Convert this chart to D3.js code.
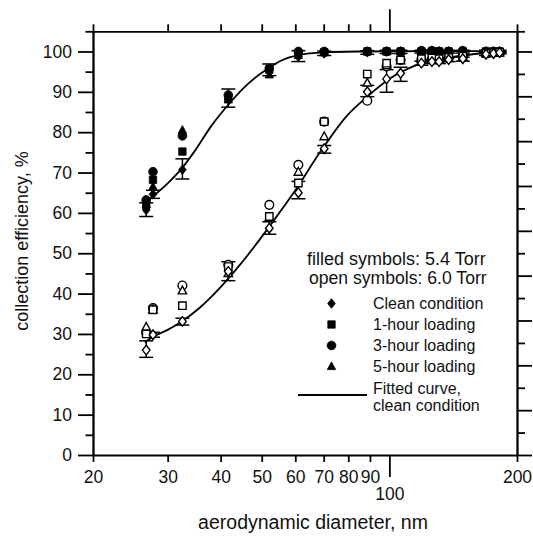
<!DOCTYPE html>
<html>
<head>
<meta charset="utf-8">
<script src="https://cdn.jsdelivr.net/npm/d3@7"></script>
<style>
    body { margin: 0; background: #fff; }
    svg { display: block; font-family: "Liberation Sans", Arial, Helvetica, sans-serif; }
</style>
</head>
<body>
<svg id="chart" width="533" height="536"></svg>
<script>
// Aerodynamic diameters, nm (same for both pressures)
const sizes = [26.7, 27.7, 32.5, 41.7, 52.1, 61.0, 70.2, 88.7, 98.5, 106.3, 119, 126, 131, 138, 149, 169, 176, 182];

// 5.4 Torr (filled symbols)
const lowClean = [60.7, 64.6, 70.7, 88.2, 95.2, 98.7, 99.5, 99.8, 100, 100, 100, 100, 100, 100, 100, 100, 100, 100];
const lowCleanLo = [59.1, 63.6, 68.4, 86.2, 94.0, 97.5, 99.0, 99.3, 99.5, 99.5, 99.6, 99.6, 99.6, 99.6, 99.6, 99.7, 99.7, 99.7];
const lowCleanHi = [62.5, 65.6, 73.4, 90.7, 96.9, 100.2, 100.1, 100.2, 100.3, 100.3, 100.3, 100.3, 100.3, 100.3, 100.3, 100.3, 100.3, 100.3];
const lowLoad1 = [62.0, 68.2, 75.2, 88.5, 95.5, 99.5, 99.8, 100, 100, 100, 100, 100, 100, 100, 100, 100, 100, 100];
const lowLoad3 = [63.2, 70.2, 79.1, 89.2, 95.8, 100, 100, 100, 100, 100, 100.2, 100.2, 100, 100, 100.2, 100, 100, 100];
const lowLoad5 = [62.0, 66.5, 80.5, 88.0, 94.2, 99.0, 99.8, 100, 100, 100, 100, 100, 100, 100, 100, 100, 100, 100];

// 6.0 Torr (open symbols)
const highClean = [26.0, 29.8, 33.1, 45.5, 56.2, 65.0, 75.9, 90.0, 93.2, 94.6, 97.1, 97.5, 97.5, 98.0, 98.2, 99.3, 99.5, 99.7];
const highCleanLo = [24.2, 29.2, 32.2, 43.2, 54.7, 63.5, 74.8, 88.8, 89.9, 92.6, 96.6, 97.0, 97.0, 97.5, 97.6, 99.0, 99.2, 99.4];
const highCleanHi = [28.3, 30.4, 33.9, 47.9, 57.8, 67.8, 76.7, 91.6, 95.5, 96.1, 97.6, 98.0, 98.0, 98.5, 98.6, 99.6, 99.8, 100];
const highLoad1 = [30.0, 36.0, 37.0, 46.7, 59.1, 67.4, 82.6, 94.4, 97.1, 97.9, 98.2, 98.4, 98.2, 98.5, 98.8, 99.5, 99.7, 99.8];
const highLoad3 = [30.3, 36.4, 42.0, 47.1, 62.0, 71.9, 82.6, 87.8, 96.3, 97.9, 98.0, 98.2, 98.0, 98.4, 98.8, 99.5, 99.7, 99.8];
const highLoad5 = [31.7, 36.0, 40.7, 45.0, 58.8, 70.1, 78.9, 92.2, 96.5, 97.7, 98.0, 98.2, 98.0, 98.3, 98.6, 99.5, 99.6, 99.7];

// Fitted curves, clean condition
const fitLowX = [26.5, 28, 30, 32.5, 35, 38, 41.7, 46, 51.4, 56, 61, 70, 85, 120, 188];
const fitLowY = [62.5, 64.5, 67.3, 71.2, 75.8, 81.5, 86.8, 91.6, 95.6, 97.9, 99.1, 99.8, 100, 100.1, 100.1];
const fitHighX = [26.5, 27.7, 30, 32.5, 35.7, 39.9, 44.4, 48, 53.2, 59.4, 68.6, 79.3, 88.7, 100.3, 113.9, 127, 146.8, 163.6, 185];
const fitHighY = [27.9, 29.3, 31.0, 33.2, 36.5, 41.5, 47.1, 51.6, 57.9, 64.9, 75.0, 84.0, 88.8, 93.3, 96.3, 97.9, 98.9, 99.5, 99.8];

// Axis ticks
const xTicks = [20, 30, 40, 50, 60, 70, 80, 90, 100, 200];
const yMajor = [0, 10, 20, 30, 40, 50, 60, 70, 80, 90, 100];
const yMinor = [5, 15, 25, 35, 45, 55, 65, 75, 85, 95, 105];

const legendItems = ['Clean condition', '1-hour loading', '3-hour loading', '5-hour loading'];
const legendShapes = ['diamond', 'square', 'circle', 'triangle'];

const svg = d3.select('#chart');
const x = d3.scaleLog().domain([20, 200]).range([93, 517]);
const y = d3.scaleLinear().domain([0, 105]).range([455, 31.3]);

// right axis: unlabeled scale with 9 equal divisions up to the 100 line
const yRightMajor = d3.range(0, 10).map(k => k * 100 / 9);
const yRightMinor = d3.range(0, 9).map(k => k * 100 / 9 + 50 / 9).concat([105]);

const STROKE = 1.8;

function styleAxis(g) {
    g.selectAll('path.domain').attr('stroke-width', STROKE).attr('stroke', '#000');
    g.selectAll('.tick line').attr('stroke-width', STROKE).attr('stroke', '#000');
    g.selectAll('.tick text').attr('fill', '#111').attr('font-size', 17.5)
        .attr('font-family', '"Liberation Sans", Arial, sans-serif');
}

// Bottom axis
const gBottom = svg.append('g').attr('transform', 'translate(0,455)')
    .call(d3.axisBottom(x).tickValues(xTicks).tickFormat(d3.format('d')).tickSize(7).tickSizeOuter(0).tickPadding(8.5))
    .call(styleAxis);
gBottom.selectAll('.tick').filter(d => d === 100).select('line').attr('y2', 22);
gBottom.selectAll('.tick').filter(d => d === 100).select('text').attr('y', 32.5);

// Top axis
const gTop = svg.append('g').attr('transform', 'translate(0,31.3)')
    .call(d3.axisTop(x).tickValues(xTicks).tickFormat('').tickSize(7).tickSizeOuter(0))
    .call(styleAxis);
gTop.selectAll('.tick').filter(d => d === 100).select('line').attr('y2', -22);

// Left axis
svg.append('g').attr('transform', 'translate(93,0)')
    .call(d3.axisLeft(y).tickValues(yMajor).tickSize(15).tickSizeOuter(0).tickPadding(6))
    .call(styleAxis);
svg.append('g').attr('transform', 'translate(93,0)')
    .call(d3.axisLeft(y).tickValues(yMinor).tickFormat('').tickSize(7.5).tickSizeOuter(0))
    .call(styleAxis);

// Right axis
svg.append('g').attr('transform', 'translate(517,0)')
    .call(d3.axisRight(y).tickValues(yRightMajor).tickFormat('').tickSize(15).tickSizeOuter(0))
    .call(styleAxis);
svg.append('g').attr('transform', 'translate(517,0)')
    .call(d3.axisRight(y).tickValues(yRightMinor).tickFormat('').tickSize(8).tickSizeOuter(0))
    .call(styleAxis);

// Axis titles
svg.append('text')
    .attr('x', 313).attr('y', 529)
    .attr('text-anchor', 'middle')
    .attr('font-size', 19.5).attr('fill', '#111')
    .text('aerodynamic diameter, nm');

svg.append('text')
    .attr('transform', 'translate(28,241) rotate(-90)')
    .attr('text-anchor', 'middle')
    .attr('font-size', 18).attr('fill', '#111')
    .text('collection efficiency, %');

// Fitted curves
const line = d3.line()
    .x(d => x(d[0]))
    .y(d => y(d[1]))
    .curve(d3.curveMonotoneX);

[[fitLowX, fitLowY], [fitHighX, fitHighY]].forEach(([fx, fy]) => {
    svg.append('path')
        .datum(fx.map((v, i) => [v, fy[i]]))
        .attr('d', line)
        .attr('fill', 'none')
        .attr('stroke', '#000')
        .attr('stroke-width', 1.8);
});

// Error bars on clean condition
function errorBars(lo, hi) {
    const g = svg.append('g').attr('stroke', '#000').attr('stroke-width', 1.5);
    sizes.forEach((s, i) => {
        const cx = x(s);
        g.append('line').attr('x1', cx).attr('x2', cx).attr('y1', y(lo[i])).attr('y2', y(hi[i]));
        g.append('line').attr('x1', cx - 7).attr('x2', cx + 7).attr('y1', y(lo[i])).attr('y2', y(lo[i]));
        g.append('line').attr('x1', cx - 7).attr('x2', cx + 7).attr('y1', y(hi[i])).attr('y2', y(hi[i]));
    });
}
errorBars(lowCleanLo, lowCleanHi);
errorBars(highCleanLo, highCleanHi);

// Marker shapes
function shapePath(kind) {
    if (kind === 'diamond') return 'M0,-4.8L3.8,0L0,4.8L-3.8,0Z';
    if (kind === 'square') return 'M-3.7,-3.7H3.7V3.7H-3.7Z';
    if (kind === 'triangle') return 'M0,-4.6L4.2,3.1L-4.2,3.1Z';
    return d3.symbol().type(d3.symbolCircle).size(60)();
}

function drawSeries(values, kind, filled) {
    svg.append('g').selectAll('path')
        .data(values.map((v, i) => [sizes[i], v]))
        .join('path')
        .attr('transform', d => `translate(${x(d[0])},${y(d[1])})`)
        .attr('d', shapePath(kind))
        .attr('fill', filled ? '#000' : '#fff')
        .attr('stroke', '#000')
        .attr('stroke-width', filled ? 0.8 : 1.4);
}

drawSeries(lowLoad3, 'circle', true);
drawSeries(lowLoad5, 'triangle', true);
drawSeries(lowLoad1, 'square', true);
drawSeries(lowClean, 'diamond', true);

drawSeries(highLoad3, 'circle', false);
drawSeries(highLoad5, 'triangle', false);
drawSeries(highLoad1, 'square', false);
drawSeries(highClean, 'diamond', false);

// Legend
const legend = svg.append('g').attr('fill', '#111');
legend.append('text').attr('x', 307).attr('y', 264.5).attr('font-size', 18).text('filled symbols: 5.4 Torr');
legend.append('text').attr('x', 309).attr('y', 283.5).attr('font-size', 17.6).text('open symbols: 6.0 Torr');

const rowY = [303.5, 324.5, 345.5, 366.5];
legendItems.forEach((label, i) => {
    legend.append('path')
        .attr('transform', `translate(331.5,${rowY[i]})`)
        .attr('d', shapePath(legendShapes[i]))
        .attr('fill', '#000').attr('stroke', '#000').attr('stroke-width', 0.8);
    legend.append('text')
        .attr('x', 373).attr('y', rowY[i] + 5.8)
        .attr('font-size', 16)
        .text(label);
});
legend.append('line')
    .attr('x1', 298).attr('x2', 367).attr('y1', 395).attr('y2', 395)
    .attr('stroke', '#000').attr('stroke-width', 1.8);
legend.append('text').attr('x', 373).attr('y', 394).attr('font-size', 16).text('Fitted curve,');
legend.append('text').attr('x', 373).attr('y', 411).attr('font-size', 16).text('clean condition');
</script>
</body>
</html>
